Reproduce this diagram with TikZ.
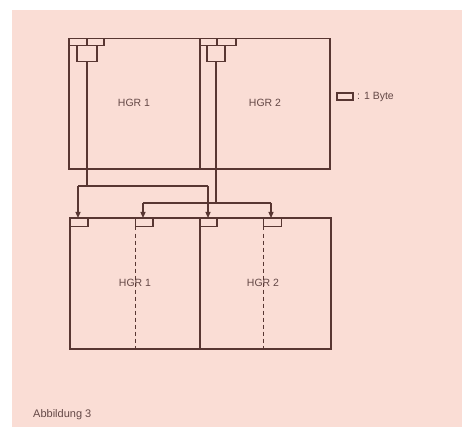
\documentclass[tikz,border=0pt]{standalone}
\usepackage{fontspec}
\setmainfont{Liberation Sans}
\usetikzlibrary{arrows.meta}
\definecolor{bg}{RGB}{250,221,213}
\definecolor{ink}{RGB}{88,54,50}
\definecolor{txt}{RGB}{100,72,70}
\begin{document}
\begin{tikzpicture}[x=1pt,y=-1pt,
  line/.style={draw=ink,line width=1.2pt},
  blk/.style={draw=ink,line width=1.2pt,rectangle,inner sep=0pt,outer sep=0pt,anchor=north west},
  cell/.style={draw=ink,line width=1.2pt,rectangle,inner sep=0pt,outer sep=0pt,anchor=north west,minimum height=7pt},
  lbl/.style={text=txt,font=\fontsize{10.5}{12}\selectfont,inner sep=0pt},
  arr/.style={line,-{Triangle[length=6pt,width=5pt]}},
  dsh/.style={draw=ink,line width=1pt,dash pattern=on 4pt off 3pt}
]
\useasboundingbox (0,0) rectangle (462,427);
\fill[white] (0,0) rectangle (462,427);
\fill[bg] (12,10) rectangle (462,427);

% top memory
\node[blk,minimum width=131pt,minimum height=130.5pt] (t1) at (69,38.5) {};
\node[blk,minimum width=130pt,minimum height=130.5pt] (t2) at (200,38.5) {};
\node[cell,minimum width=18pt] (h1a) at (69,38.5) {};
\node[cell,minimum width=17pt] (h1b) at (87,38.5) {};
\node[cell,minimum width=20pt,minimum height=16pt] (m1) at (77,45.5) {};
\node[cell,minimum width=17pt] (h2a) at (200,38.5) {};
\node[cell,minimum width=19pt] (h2b) at (217,38.5) {};
\node[cell,minimum width=18pt,minimum height=16pt] (m2) at (207,45.5) {};
\node[lbl] (l1) at (134,103) {HGR 1};
\node[lbl] (l2) at (265,103) {HGR 2};

% legend
\node[cell,minimum width=16pt] (lg) at (337,93) {};
\node[lbl,anchor=west] (lgt) at (357,97) {: 1 Byte};

% lower memory
\node[blk,minimum width=130pt,minimum height=131pt] (b1) at (70,218) {};
\node[blk,minimum width=131pt,minimum height=131pt] (b2) at (200,218) {};
\node[cell,minimum width=18pt,minimum height=8.5pt] (c1) at (70,218) {};
\node[cell,minimum width=17.5pt,minimum height=8.5pt] (c2) at (135.5,218) {};
\node[cell,minimum width=17pt,minimum height=8.5pt] (c3) at (200,218) {};
\node[cell,minimum width=18pt,minimum height=8.5pt] (c4) at (263.5,218) {};
\node[lbl] (l3) at (135,283) {HGR 1};
\node[lbl] (l4) at (263,283) {HGR 2};

\draw[dsh] (c2.south west) -- (c2.south west |- b1.south);
\draw[dsh] (c4.south west) -- (c4.south west |- b2.south);

% connectors
\coordinate (s1) at (m1.south |- 0,186);
\coordinate (p1) at (78,186);
\coordinate (q1) at (208,186);
\coordinate (a1) at (78,218);
\coordinate (a3) at (208,218);
\coordinate (s2) at (m2.south |- 0,203);
\coordinate (p2) at (143,203);
\coordinate (q2) at (271,203);
\coordinate (a2) at (143,218);
\coordinate (a4) at (271,218);

\draw[line] (m1.south) -- (s1);
\draw[line] (p1) -- (q1);
\draw[arr] (p1) -- (a1);
\draw[arr] (q1) -- (a3);
\draw[line] (m2.south) -- (s2);
\draw[line] (p2) -- (q2);
\draw[arr] (p2) -- (a2);
\draw[arr] (q2) -- (a4);

\node[lbl,anchor=west,font=\fontsize{11}{13}\selectfont] (cap) at (33,415) {Abbildung 3};
\end{tikzpicture}
\end{document}
